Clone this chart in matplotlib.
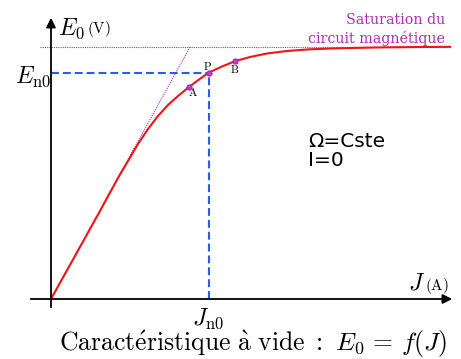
import numpy as np
from matplotlib import pyplot as plt

plt.rcParams['mathtext.fontset'] = 'cm'

# caractéristique à vide E0 = f(J) (unités arbitraires)
J = [0, 0.29, 0.49, 0.67, 0.77, 0.87, 0.97, 1.07, 1.17, 1.27, 1.38, 1.48, 1.58,
     1.71, 1.84, 1.99, 2.16, 2.36, 2.59, 2.89, 3.29, 3.69, 3.99]
E0 = [0, 0.52, 0.88, 1.21, 1.38, 1.55, 1.70, 1.83, 1.94, 2.03, 2.12, 2.195, 2.265,
      2.325, 2.378, 2.42, 2.455, 2.48, 2.497, 2.508, 2.516, 2.52, 2.522]

# points A, P, B
pts_nom = ["A", "P", "B"]
pts_J = [1.38, 1.58, 1.84]
pts_E = [2.12, 2.265, 2.378]

# point nominal
Jn0 = 1.58
En0 = 2.265

# tangente à l'origine et saturation
tang_J = [0, 1.39]
tang_E = [0, 2.52]
E_sat = 2.52

fig = plt.figure(figsize=(4.61, 3.59), dpi=100)
ax = fig.add_axes([0, 0, 1, 1])
ax.set_xlim(-0.51, 4.10)
ax.set_ylim(-0.60, 2.99)
ax.axis("off")

# axes avec flèches
ax.annotate("", xy=(0, 2.84), xytext=(0, -0.11),
            arrowprops=dict(arrowstyle="-|>", color="black", lw=1.3, mutation_scale=14))
ax.annotate("", xy=(4.04, 0), xytext=(-0.23, 0),
            arrowprops=dict(arrowstyle="-|>", color="black", lw=1.3, mutation_scale=14))

violet = "#b02cb8"
ax.plot([-0.11, 4.0], [E_sat, E_sat], ls=(0, (1, 1)), color=violet, lw=0.8)
ax.plot(tang_J, tang_E, ls=(0, (1, 1)), color=violet, lw=0.8)

bleu = "#2a5cf0"
ax.plot([0, Jn0], [En0, En0], color=bleu, lw=1.5, dashes=(3.8, 1.9))
ax.plot([Jn0, Jn0], [0, En0], color=bleu, lw=1.5, dashes=(3.8, 1.9))

ax.plot(J, E0, color="#f01414", lw=1.5, solid_joinstyle="round")
ax.plot(pts_J, pts_E, "o", ms=3.5, color="#c040d0", mec="#a030c0")

decal = {"A": (0.04, -0.05), "P": (-0.02, 0.07), "B": (0.0, -0.08)}
for nom, x, y in zip(pts_nom, pts_J, pts_E):
    dx, dy = decal[nom]
    ax.text(x + dx, y + dy, r"$\mathrm{%s}$" % nom, fontsize=8, ha="center", va="center")

# textes
ax.text(0.07, 2.645, r"$E_0$", fontsize=17, ha="left", va="baseline")
ax.text(0.36, 2.665, r"$\mathrm{(V)}$", fontsize=11, ha="left", va="baseline")
ax.text(-0.36, 2.16, r"$E_{\mathrm{n0}}$", fontsize=17, ha="left", va="baseline")
ax.text(3.57, 0.09, r"$J$", fontsize=17, ha="left", va="baseline")
ax.text(3.74, 0.09, r"$\mathrm{(A)}$", fontsize=11, ha="left", va="baseline")
ax.text(1.41, -0.26, r"$J_{\mathrm{n0}}$", fontsize=17, ha="left", va="baseline")

ax.text(3.94, 2.79, "Saturation du", family="DejaVu Serif", fontsize=10.3,
        color=violet, ha="right", va="center")
ax.text(3.94, 2.61, "circuit magnétique", family="DejaVu Serif", fontsize=10.3,
        color=violet, ha="right", va="center")

ax.text(2.57, 1.52, "Ω=Cste", fontsize=14.5, ha="left", va="baseline")
ax.text(2.57, 1.33, "I=0", fontsize=14.5, ha="left", va="baseline")

ax.text(2.02, -0.52,
        r"$\mathrm{Caract\acute{e}ristique\ \grave{a}\ vide\ :\ }E_0\,=\,f(J)$",
        fontsize=18.5, ha="center", va="baseline")

plt.savefig("out.png")
